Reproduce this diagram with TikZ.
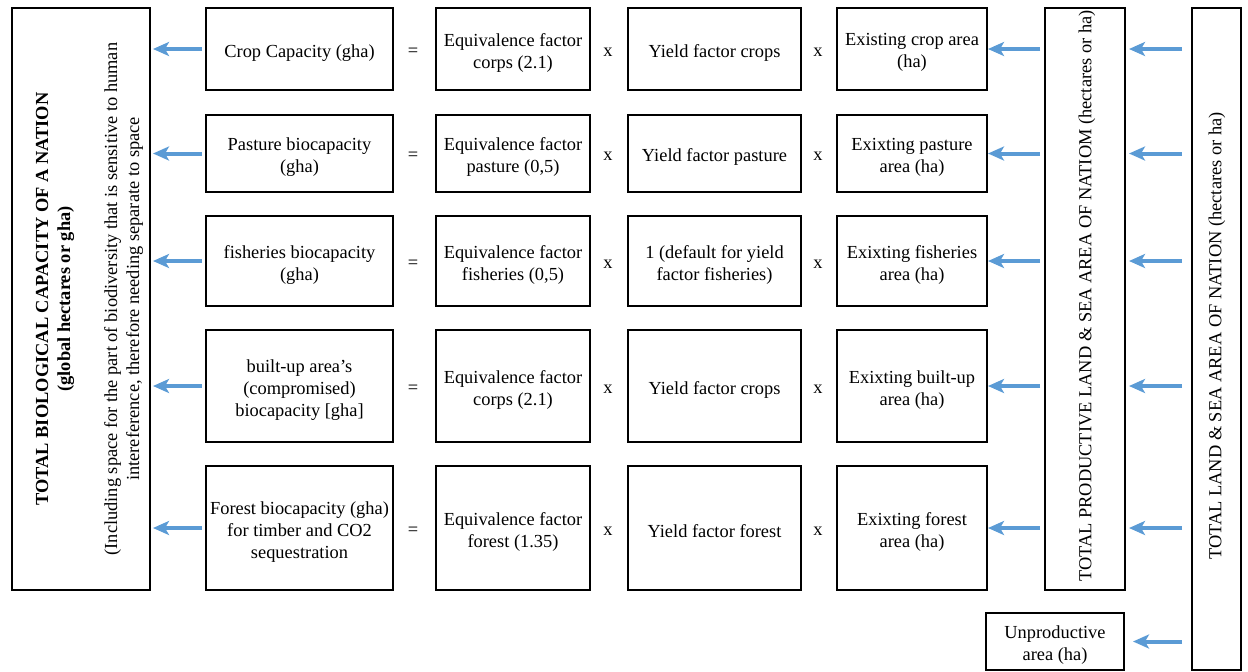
\documentclass[tikz,border=0pt]{standalone}
\usepackage{fontspec}
\setmainfont{Liberation Serif}
\usetikzlibrary{arrows.meta}
\definecolor{arrblue}{RGB}{91,155,213}

\begin{document}
\begin{tikzpicture}[x=0.5pt,y=-0.5pt,
    every node/.style={font=\fontsize{9.2}{11}\selectfont},
    box/.style={draw,line width=1pt,inner sep=0pt},
    txt/.style={align=center,yshift=-1.8pt},
    op/.style={yshift=-1.5pt},
    arr/.style={draw=arrblue,line width=2pt,-{Stealth[length=8pt,width=7pt,inset=2pt]}}]
  \useasboundingbox (0,0) rectangle (1248,671);
  % left summary box
  \node[box,minimum width=69pt,minimum height=291pt] (bio) at (81,299) {};
  \node[rotate=90,align=center] (biotxt) at (89.5,299)
    {\textbf{TOTAL BIOLOGICAL CAPACITY OF A NATION}\\
     \textbf{(global hectares or gha)}\\[12.5pt]
     (Including space for the part of biodiversity that is sensitive to human\\
     intereference, therefore needing separate to space};
  % right area boxes
  \node[box,minimum width=40pt,minimum height=291pt] (prod) at (1085,299) {};
  \node[rotate=90] (prodtxt) at (1087,296)
    {TOTAL PRODUCTIVE LAND \& SEA AREA OF NATIOM (hectares or ha)};
  \node[box,minimum width=24.5pt,minimum height=331pt] (land) at (1216.5,339) {};
  \node[rotate=90] (landtxt) at (1217,336)
    {TOTAL LAND \& SEA AREA OF NATION (hectares or ha)};
  \node[box,minimum width=69pt,minimum height=28.5pt,
    label={[txt]center:{Unproductive\\area (ha)}}] (unprod) at (1055,641.5) {};
  \draw[arr,shorten <=4.5pt,shorten >=4pt] (land.west |- unprod.east) -- (unprod.east);
  % one row per land type
  \foreach \r/\yc/\h/\ta/\tb/\tc/\td in {
      1/49/41/{Crop Capacity (gha)}/{Equivalence factor\\corps (2.1)}/{Yield factor crops}/{Existing crop area\\(ha)},
      2/153.5/38.5/{Pasture biocapacity\\(gha)}/{Equivalence factor\\pasture (0,5)}/{Yield factor pasture}/{Exixting pasture\\area (ha)},
      3/261/45/{fisheries biocapacity\\(gha)}/{Equivalence factor\\fisheries (0,5)}/{1 (default for yield\\factor fisheries)}/{Exixting fisheries\\area (ha)},
      4/386/56/{built-up area's\\(compromised)\\biocapacity [gha]}/{Equivalence factor\\corps (2.1)}/{Yield factor crops}/{Exixting built-up\\area (ha)},
      5/528/62/{Forest biocapacity (gha)\\for timber and CO2\\sequestration}/{Equivalence factor\\forest (1.35)}/{Yield factor forest}/{Exixting forest\\area (ha)}} {
    \node[box,minimum width=93.5pt,minimum height=\h pt,label={[txt]center:{\ta}}] (cap-\r) at (299.5,\yc) {};
    \node[op] (eq-\r) at (413,\yc) {=};
    \node[box,minimum width=77pt,minimum height=\h pt,label={[txt]center:{\tb}}] (equiv-\r) at (513,\yc) {};
    \node[op] (xa-\r) at (608,\yc) {x};
    \node[box,minimum width=86.5pt,minimum height=\h pt,label={[txt]center:{\tc}}] (yield-\r) at (714.5,\yc) {};
    \node[op] (xb-\r) at (818,\yc) {x};
    \node[box,minimum width=75pt,minimum height=\h pt,label={[txt]center:{\td}}] (area-\r) at (912,\yc) {};
    \draw[arr,shorten <=1.5pt,shorten >=1pt] (cap-\r.west) -- (bio.east |- cap-\r.west);
    \draw[arr,shorten <=2pt] (prod.west |- area-\r.east) -- (area-\r.east);
    \draw[arr,shorten <=4.5pt,shorten >=1.5pt] (land.west |- area-\r.east) -- (prod.east |- area-\r.east);
  }
\end{tikzpicture}
\end{document}
